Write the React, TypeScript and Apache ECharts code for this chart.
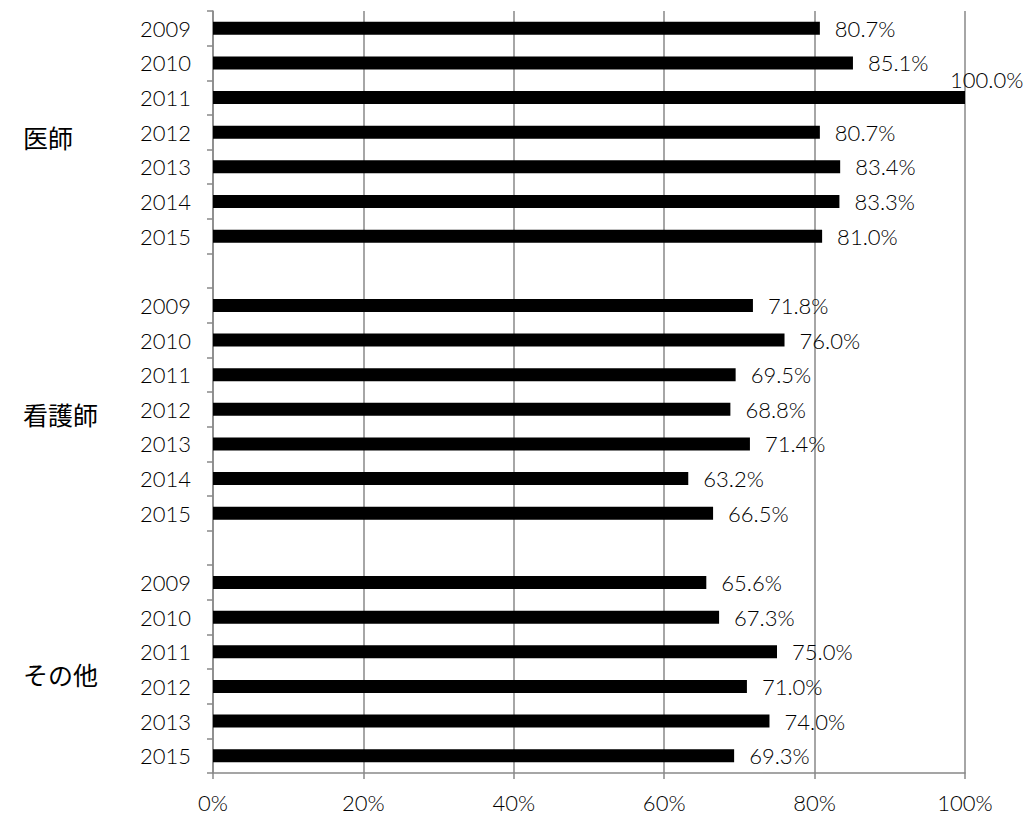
import React, { useEffect, useRef } from "react";
import * as echarts from "echarts";

const groups = ["医師", "看護師", "その他"];
const doctorYears = ["2009", "2010", "2011", "2012", "2013", "2014", "2015"];
const doctorValues = [80.7, 85.1, 100.0, 80.7, 83.4, 83.3, 81.0];
const nurseYears = ["2009", "2010", "2011", "2012", "2013", "2014", "2015"];
const nurseValues = [71.8, 76.0, 69.5, 68.8, 71.4, 63.2, 66.5];
const otherYears = ["2009", "2010", "2011", "2012", "2013", "2015"];
const otherValues = [65.6, 67.3, 75.0, 71.0, 74.0, 69.3];
const xTicks = [0, 20, 40, 60, 80, 100];

export default function App() {
  const ref = useRef<HTMLDivElement>(null);
  useEffect(() => {
    if (!ref.current) return;
    document.body.style.margin = "0";
    const chart = echarts.init(ref.current, null, { renderer: "svg" });

    const yearSets = [doctorYears, nurseYears, otherYears];
    const valueSets = [doctorValues, nurseValues, otherValues];
    const cats: string[] = [];
    const vals: any[] = [];
    const groupRanges: [number, number][] = [];
    yearSets.forEach((ys, gi) => {
      if (gi > 0) {
        cats.push("");
        vals.push("-");
      }
      const start = cats.length;
      ys.forEach((y, i) => {
        cats.push(y);
        const v = valueSets[gi][i];
        if (v >= 100) {
          vals.push({ value: v, label: { offset: [-30, -18] } });
        } else {
          vals.push(v);
        }
      });
      groupRanges.push([start, cats.length - 1]);
    });

    const textColor = "#000";
    const font = "Lato, 'Open Sans', sans-serif";

    chart.setOption({
      animation: false,
      grid: { left: 213, right: 61, top: 11, bottom: 44, containLabel: false },
      xAxis: {
        type: "value",
        min: xTicks[0],
        max: xTicks[xTicks.length - 1],
        interval: 20,
        axisLine: { show: true, lineStyle: { color: "#888", width: 1.5 } },
        axisTick: { show: true, length: 6, lineStyle: { color: "#888", width: 1.5 } },
        axisLabel: {
          formatter: "{value}%",
          color: textColor,
          fontSize: 22,
          fontWeight: 300,
          fontFamily: font,
          margin: 18,
        },
        splitLine: { show: true, lineStyle: { color: "#888", width: 1.5 } },
      },
      yAxis: {
        type: "category",
        data: cats,
        inverse: true,
        axisLine: { show: true, lineStyle: { color: "#888", width: 1.5 } },
        axisTick: { show: true, length: 6, lineStyle: { color: "#888", width: 1.5 } },
        axisLabel: {
          color: textColor,
          fontSize: 22,
          fontWeight: 300,
          fontFamily: font,
          margin: 22,
        },
        splitLine: { show: false },
      },
      series: [
        {
          type: "bar",
          data: vals,
          barWidth: 13,
          itemStyle: { color: "#000" },
          label: {
            show: true,
            position: "right",
            distance: 15,
            color: textColor,
            fontSize: 22,
            fontWeight: 300,
            fontFamily: font,
            formatter: (p: any) => Number(p.value).toFixed(1) + "%",
          },
        },
      ],
    });

    const graphics = groups.map((g, gi) => {
      const [s, e] = groupRanges[gi];
      const y0 = chart.convertToPixel({ yAxisIndex: 0 }, s) as number;
      const y1 = chart.convertToPixel({ yAxisIndex: 0 }, e) as number;
      return {
        type: "text",
        left: 23,
        top: (y0 + y1) / 2 - 14 + 6,
        style: {
          text: g,
          fill: "#000",
          fontSize: 25,
          fontFamily: "'Noto Sans CJK JP', sans-serif",
          fontWeight: 400,
        },
      };
    });
    chart.setOption({ graphic: graphics });

    return () => chart.dispose();
  }, []);
  return <div ref={ref} style={{ width: 1026, height: 817 }} />;
}
